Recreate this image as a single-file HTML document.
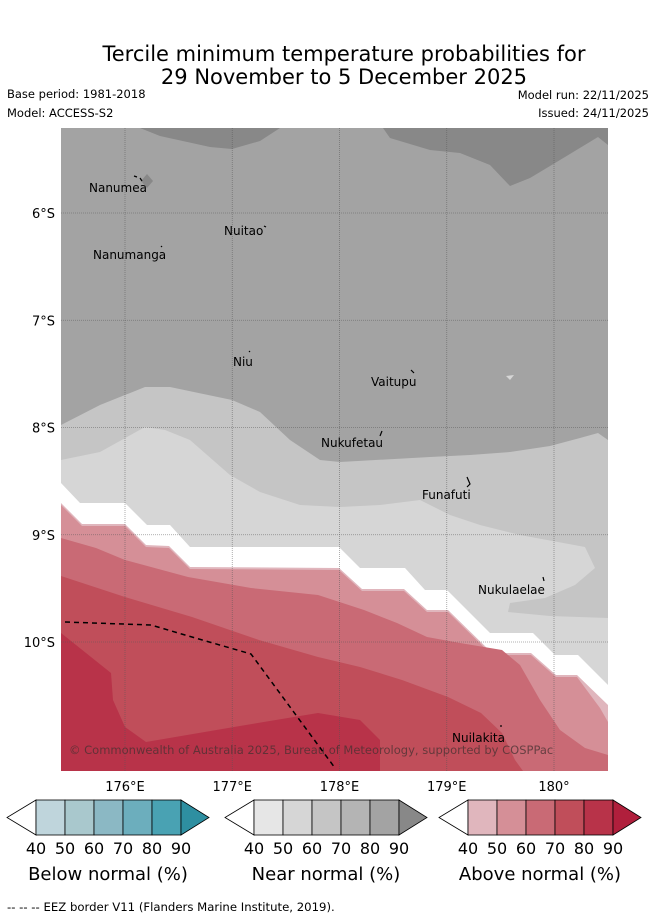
<!DOCTYPE html>
<html><head><meta charset="utf-8"><style>
html,body{margin:0;padding:0;background:#fff;}
svg{display:block;font-family:"DejaVu Sans","Liberation Sans",sans-serif;}
</style></head><body>
<svg id="chart" width="655" height="919" viewBox="0 0 655 919" xmlns="http://www.w3.org/2000/svg">
<text x="344" y="61" font-size="21" text-anchor="middle" fill="#000">Tercile minimum temperature probabilities for</text>
<text x="344" y="84" font-size="21" text-anchor="middle" fill="#000">29 November to 5 December 2025</text>
<text x="7" y="98" font-size="11.5">Base period: 1981-2018</text>
<text x="7" y="117" font-size="11.5">Model: ACCESS-S2</text>
<text x="649" y="99" font-size="11.5" text-anchor="end">Model run: 22/11/2025</text>
<text x="649" y="117" font-size="11.5" text-anchor="end">Issued: 24/11/2025</text>

<g id="map">
<rect x="61" y="128" width="547" height="643" fill="#a3a3a3"/>
<polygon fill="#888888" points="140,128 160,136 210,147 232,149 260,141 280,128"/>
<polygon fill="#888888" points="383,128 390,138 430,150 460,153 490,165 510,186 530,178 560,160 598,137 608,145 608,128"/>
<polygon fill="#888888" points="141,181 147,174 153,181 147,188"/>
<polygon fill="#c5c5c5" points="61,425 100,405 145,387 170,387 232,400 260,412 290,440 320,460 340,462 430,457 470,455 510,452 550,446 580,438 598,433 608,440 608,771 61,771"/>
<polygon fill="#d6d6d6" points="61,460 100,452 145,427 165,430 190,440 230,475 260,492 300,505 340,507 380,505 420,500 450,515 480,525 520,535 585,547 595,568 575,585 545,598 510,603 508,612 550,616 608,618 608,771 61,771"/>
<polygon fill="#ffffff" points="61,483 80,503 125,503 147,525 170,525 190,547 339,547 360,568 405,568 425,590 447,590 490,633 533,633 555,655 578,655 608,685 608,771 61,771"/>
<polygon fill="#e0b6bd" points="61,503 82,524 125,524 146,545 169,546 190,567 339,568 362,589 404,589 427,610 448,610 492,653 531,653 556,675 577,675 608,705 608,771 61,771"/>
<polygon fill="#d58f97" points="61,505 82,526 125,526 146,547 169,548 190,569 339,570 362,591 404,591 427,612 448,612 492,655 531,655 556,677 577,677 600,708 608,722 608,771 61,771"/>
<polygon fill="#c96a75" points="61,538 96,548 125,560 188,577 251,588 318,595 364,610 397,623 427,637 460,643 502,650 520,665 540,700 560,730 585,748 608,755 608,771 61,771"/>
<polygon fill="#c04e5a" points="61,576 125,597 192,617 259,640 318,657 360,667 402,680 448,697 481,713 502,733 515,760 523,771 61,771"/>
<polygon fill="#b83349" points="61,633 111,673 113,700 125,727 146,742 234,727 318,713 360,720 380,740 380,771 61,771"/>
<polygon fill="#d6d6d6" points="506,376 514,375 510,380"/>
<g id="grid"></g>
<polyline points="65,622 151,625 185,635 251,654 335,768" fill="none" stroke="#000" stroke-width="1.5" stroke-dasharray="5,4"/>
<g font-size="12" fill="#000">
<text x="89" y="192">Nanumea</text>
<text x="224" y="235">Nuitao</text>
<text x="93" y="259">Nanumanga</text>
<text x="233" y="366">Niu</text>
<text x="371" y="386">Vaitupu</text>
<text x="321" y="447">Nukufetau</text>
<text x="422" y="499">Funafuti</text>
<text x="478" y="594">Nukulaelae</text>
<text x="452" y="742">Nuilakita</text>
</g>
<g stroke="#000" stroke-width="1.2" fill="none">
<path d="M134,176 L137,177 M140,178 L142,181"/><path d="M264,226 L266,227"/><path d="M161,246 L162,247"/>
<path d="M249,352 L250,351"/><path d="M411,370 L414,373"/><path d="M380,436 L382,431"/>
<path d="M467,477 L470,484 L467,487"/><path d="M543,577 L544,581"/><path d="M500,726 L502,726"/>
</g>
<text x="69" y="754" font-size="11.5" fill="rgba(70,50,50,0.75)">© Commonwealth of Australia 2025, Bureau of Meteorology, supported by COSPPac</text>
</g>
<g id="axes"></g>
<g id="colorbars"></g>
<text x="7" y="911" font-size="11.7">--  --  -- EEZ border V11 (Flanders Marine Institute, 2019).</text>
</svg>
<script>
const lonTicks = [176, 177, 178, 179, 180];
const lonLabels = ["176°E", "177°E", "178°E", "179°E", "180°"];
const latTicks = [6, 7, 8, 9, 10];
const latLabels = ["6°S", "7°S", "8°S", "9°S", "10°S"];
const cbTicks = [40, 50, 60, 70, 80, 90];
const cbTitles = ["Below normal (%)", "Near normal (%)", "Above normal (%)"];
const cbColors = [
  ["#bfd5dc", "#a9c8cd", "#8bb8c4", "#6caebd", "#49a2b3", "#2e8fa1"],
  ["#e6e6e6", "#d6d6d6", "#c5c5c5", "#b4b4b4", "#a3a3a3", "#888888"],
  ["#e0b6bd", "#d58f97", "#c96a75", "#c04e5a", "#b83349", "#b01f3c"]
];
const NS = "http://www.w3.org/2000/svg";
const xLon = lon => 125 + (lon - 176) * 107.25;
const yLat = lat => 213 + (lat - 6) * 107.25;
function mk(tag, attrs, parent) {
  const e = document.createElementNS(NS, tag);
  for (const k in attrs) e.setAttribute(k, attrs[k]);
  parent.appendChild(e);
  return e;
}
const grid = document.getElementById("grid");
const axes = document.getElementById("axes");
lonTicks.forEach((lon, i) => {
  const x = xLon(lon);
  const l = mk("line", {x1: x, x2: x, y1: 128, y2: 771, stroke: "#555", "stroke-width": 0.8, "stroke-dasharray": "1,1", opacity: 0.6}, grid);
  
  
  const t = mk("text", {x: x, y: 791, "font-size": 13, "text-anchor": "middle"}, axes);
  t.textContent = lonLabels[i];
  
  
});
latTicks.forEach((lat, i) => {
  const y = yLat(lat);
  const l = mk("line", {x1: 61, x2: 608, y1: y, y2: y, stroke: "#555", "stroke-width": 0.8, "stroke-dasharray": "1,1", opacity: 0.6}, grid);
  
  
  const t = mk("text", {x: 55, y: y + 5, "font-size": 13, "text-anchor": "end"}, axes);
  t.textContent = latLabels[i];
  
  
});
const cb = document.getElementById("colorbars");
const cbLeft = [36, 254, 468];
cbLeft.forEach((x0, k) => {
  const w = 29, top = 800, bot = 835, mid = 817.5;
  const g = mk("g", {}, cb);
  
  
  const lt = mk("polygon", {points: `${x0},${top} ${x0 - 29},${mid} ${x0},${bot}`, fill: "#fff", stroke: "#000", "stroke-width": 0.8}, g);
  
  
  for (let i = 0; i < 5; i++) {
    const r = mk("rect", {x: x0 + i * w, y: top, width: w, height: bot - top, fill: cbColors[k][i], stroke: "#000", "stroke-width": 0.8}, g);
    
    
  }
  const xe = x0 + 5 * w;
  const rt = mk("polygon", {points: `${xe},${top} ${xe + 28},${mid} ${xe},${bot}`, fill: cbColors[k][5], stroke: "#000", "stroke-width": 0.8}, g);
  
  
  cbTicks.forEach((v, i) => {
    const t = mk("text", {x: x0 + i * w, y: 854, "font-size": 16, "text-anchor": "middle"}, g);
    t.textContent = v;
    
    
  });
  const tt = mk("text", {x: x0 + 72, y: 880, "font-size": 18, "text-anchor": "middle"}, g);
  tt.textContent = cbTitles[k];
  
  
});
</script>
</body></html>
